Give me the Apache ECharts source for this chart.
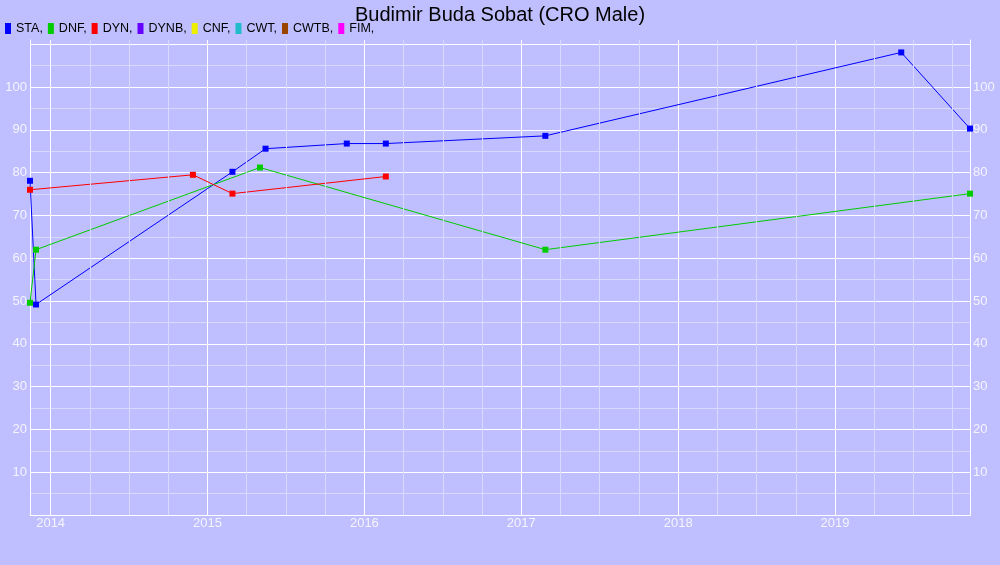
<!DOCTYPE html>
<html>
<head>
<meta charset="utf-8">
<script src="https://cdn.jsdelivr.net/npm/echarts@6/dist/echarts.min.js"></script>
<style>
html,body{margin:0;padding:0;background:#BFBFFF;}
#chart{width:1000px;height:565px;}
</style>
</head>
<body>
<div id="chart"></div>
<script>
// ---- data ----
const titleText = 'Budimir Buda Sobat (CRO Male)';
const legendNames = ['STA', 'DNF', 'DYN', 'DYNB', 'CNF', 'CWT', 'CWTB', 'FIM'];
const legendColors = ['#0000FF', '#00CC00', '#FF0000', '#6600FF', '#EEEE00', '#22BBCC', '#994400', '#FF00FF'];

const staDates  = ['2013-11-14', '2013-11-28', '2015-02-28', '2015-05-16', '2015-11-21', '2016-02-20', '2017-02-26', '2019-06-04', '2019-11-11'];
const staValues = [78.1, 49.2, 80.2, 85.6, 86.8, 86.8, 88.6, 108.1, 90.3];

const dnfDates  = ['2013-11-14', '2013-11-28', '2015-05-03', '2017-02-26', '2019-11-11'];
const dnfValues = [49.6, 62.0, 81.2, 62.0, 75.1];

const dynDates  = ['2013-11-14', '2014-11-28', '2015-02-28', '2016-02-20'];
const dynValues = [76.0, 79.5, 75.1, 79.1];

const yLabelValues = [10, 20, 30, 40, 50, 60, 70, 80, 90, 100];

// ---- helpers ----
function toYear(s) {
  const p = s.split('-').map(Number);
  const start = Date.UTC(p[0], 0, 1), end = Date.UTC(p[0] + 1, 0, 1);
  return p[0] + (Date.UTC(p[0], p[1] - 1, p[2]) - start) / (end - start);
}
function pairs(dates, vals) { return dates.map((d, i) => [toYear(d), vals[i]]); }

const allX = staDates.concat(dnfDates, dynDates).map(toYear);
const xMin = Math.min.apply(null, allX);
const xMax = Math.max.apply(null, allX);

const quarterLines = [];
for (let y = Math.floor(xMin); y <= Math.ceil(xMax); y++) {
  for (let q = 1; q < 4; q++) {
    const v = y + q / 4;
    if (v > xMin && v < xMax) quarterLines.push(v);
  }
}

const FONT = '"Liberation Sans", Arial, sans-serif';
const LABEL_COLOR = '#F4F4FF';
const MINOR = '#D9D9FF';

const seriesData = {STA: pairs(staDates, staValues), DNF: pairs(dnfDates, dnfValues), DYN: pairs(dynDates, dynValues)};

const series = [{
  type: 'line', name: '_grid', data: [], z: 1, silent: true,
  markLine: {
    silent: true, symbol: ['none', 'none'], label: {show: false}, animation: false,
    lineStyle: {color: MINOR, width: 1, type: 'solid'},
    emphasis: {disabled: true},
    data: quarterLines.map(v => ({xAxis: v}))
  }
}];
legendNames.forEach((n, i) => {
  series.push({
    type: 'line', name: n, data: seriesData[n] || [], z: 3,
    color: legendColors[i],
    symbol: 'rect', symbolSize: 6, showSymbol: true,
    lineStyle: {width: 1, color: legendColors[i]},
    itemStyle: {color: legendColors[i]},
    emphasis: {disabled: true}
  });
});

const yLabel = {
  color: LABEL_COLOR, fontSize: 13, fontFamily: FONT, margin: 3,
  formatter: v => (yLabelValues.indexOf(v) >= 0 ? String(v) : '')
};

const chart = echarts.init(document.getElementById('chart'));
chart.setOption({
  animation: false,
  backgroundColor: '#BFBFFF',
  title: {
    text: titleText, left: 'center', top: 0,
    textStyle: {fontSize: 20, fontWeight: 'normal', color: '#000', fontFamily: FONT}
  },
  legend: {
    data: legendNames, left: 5, top: 22, padding: 0, icon: 'rect', itemWidth: 6, itemHeight: 11, itemGap: 5,
    textStyle: {fontSize: 12.5, color: '#000', fontFamily: FONT},
    formatter: n => n + ',', selectedMode: false
  },
  grid: {left: 30, right: 30, top: 40, bottom: 50, containLabel: false},
  xAxis: {
    type: 'value', min: xMin, max: xMax, splitNumber: 6,
    axisLine: {show: true, lineStyle: {color: '#FFFFFF', width: 1}},
    axisTick: {show: false},
    axisLabel: {
      color: LABEL_COLOR, fontSize: 13, fontFamily: FONT, margin: 2,
      formatter: v => (Math.abs(v - Math.round(v)) < 1e-9 ? String(Math.round(v)) : ''),
      showMinLabel: true, showMaxLabel: true
    },
    splitLine: {show: true, lineStyle: {color: '#FFFFFF', width: 1}}
  },
  yAxis: [{
    type: 'value', min: 0, max: 111, interval: 5, position: 'left',
    axisLine: {show: true, lineStyle: {color: '#FFFFFF'}},
    axisTick: {show: false},
    axisLabel: yLabel,
    splitLine: {show: true, showMaxLine: false, lineStyle: {color: ['#FFFFFF', MINOR], width: 1}}
  }, {
    type: 'value', min: 0, max: 111, interval: 5, position: 'right',
    axisLine: {show: true, lineStyle: {color: '#FFFFFF'}},
    axisTick: {show: false},
    axisLabel: yLabel,
    splitLine: {show: false}
  }],
  series: series
});
</script>
</body>
</html>
